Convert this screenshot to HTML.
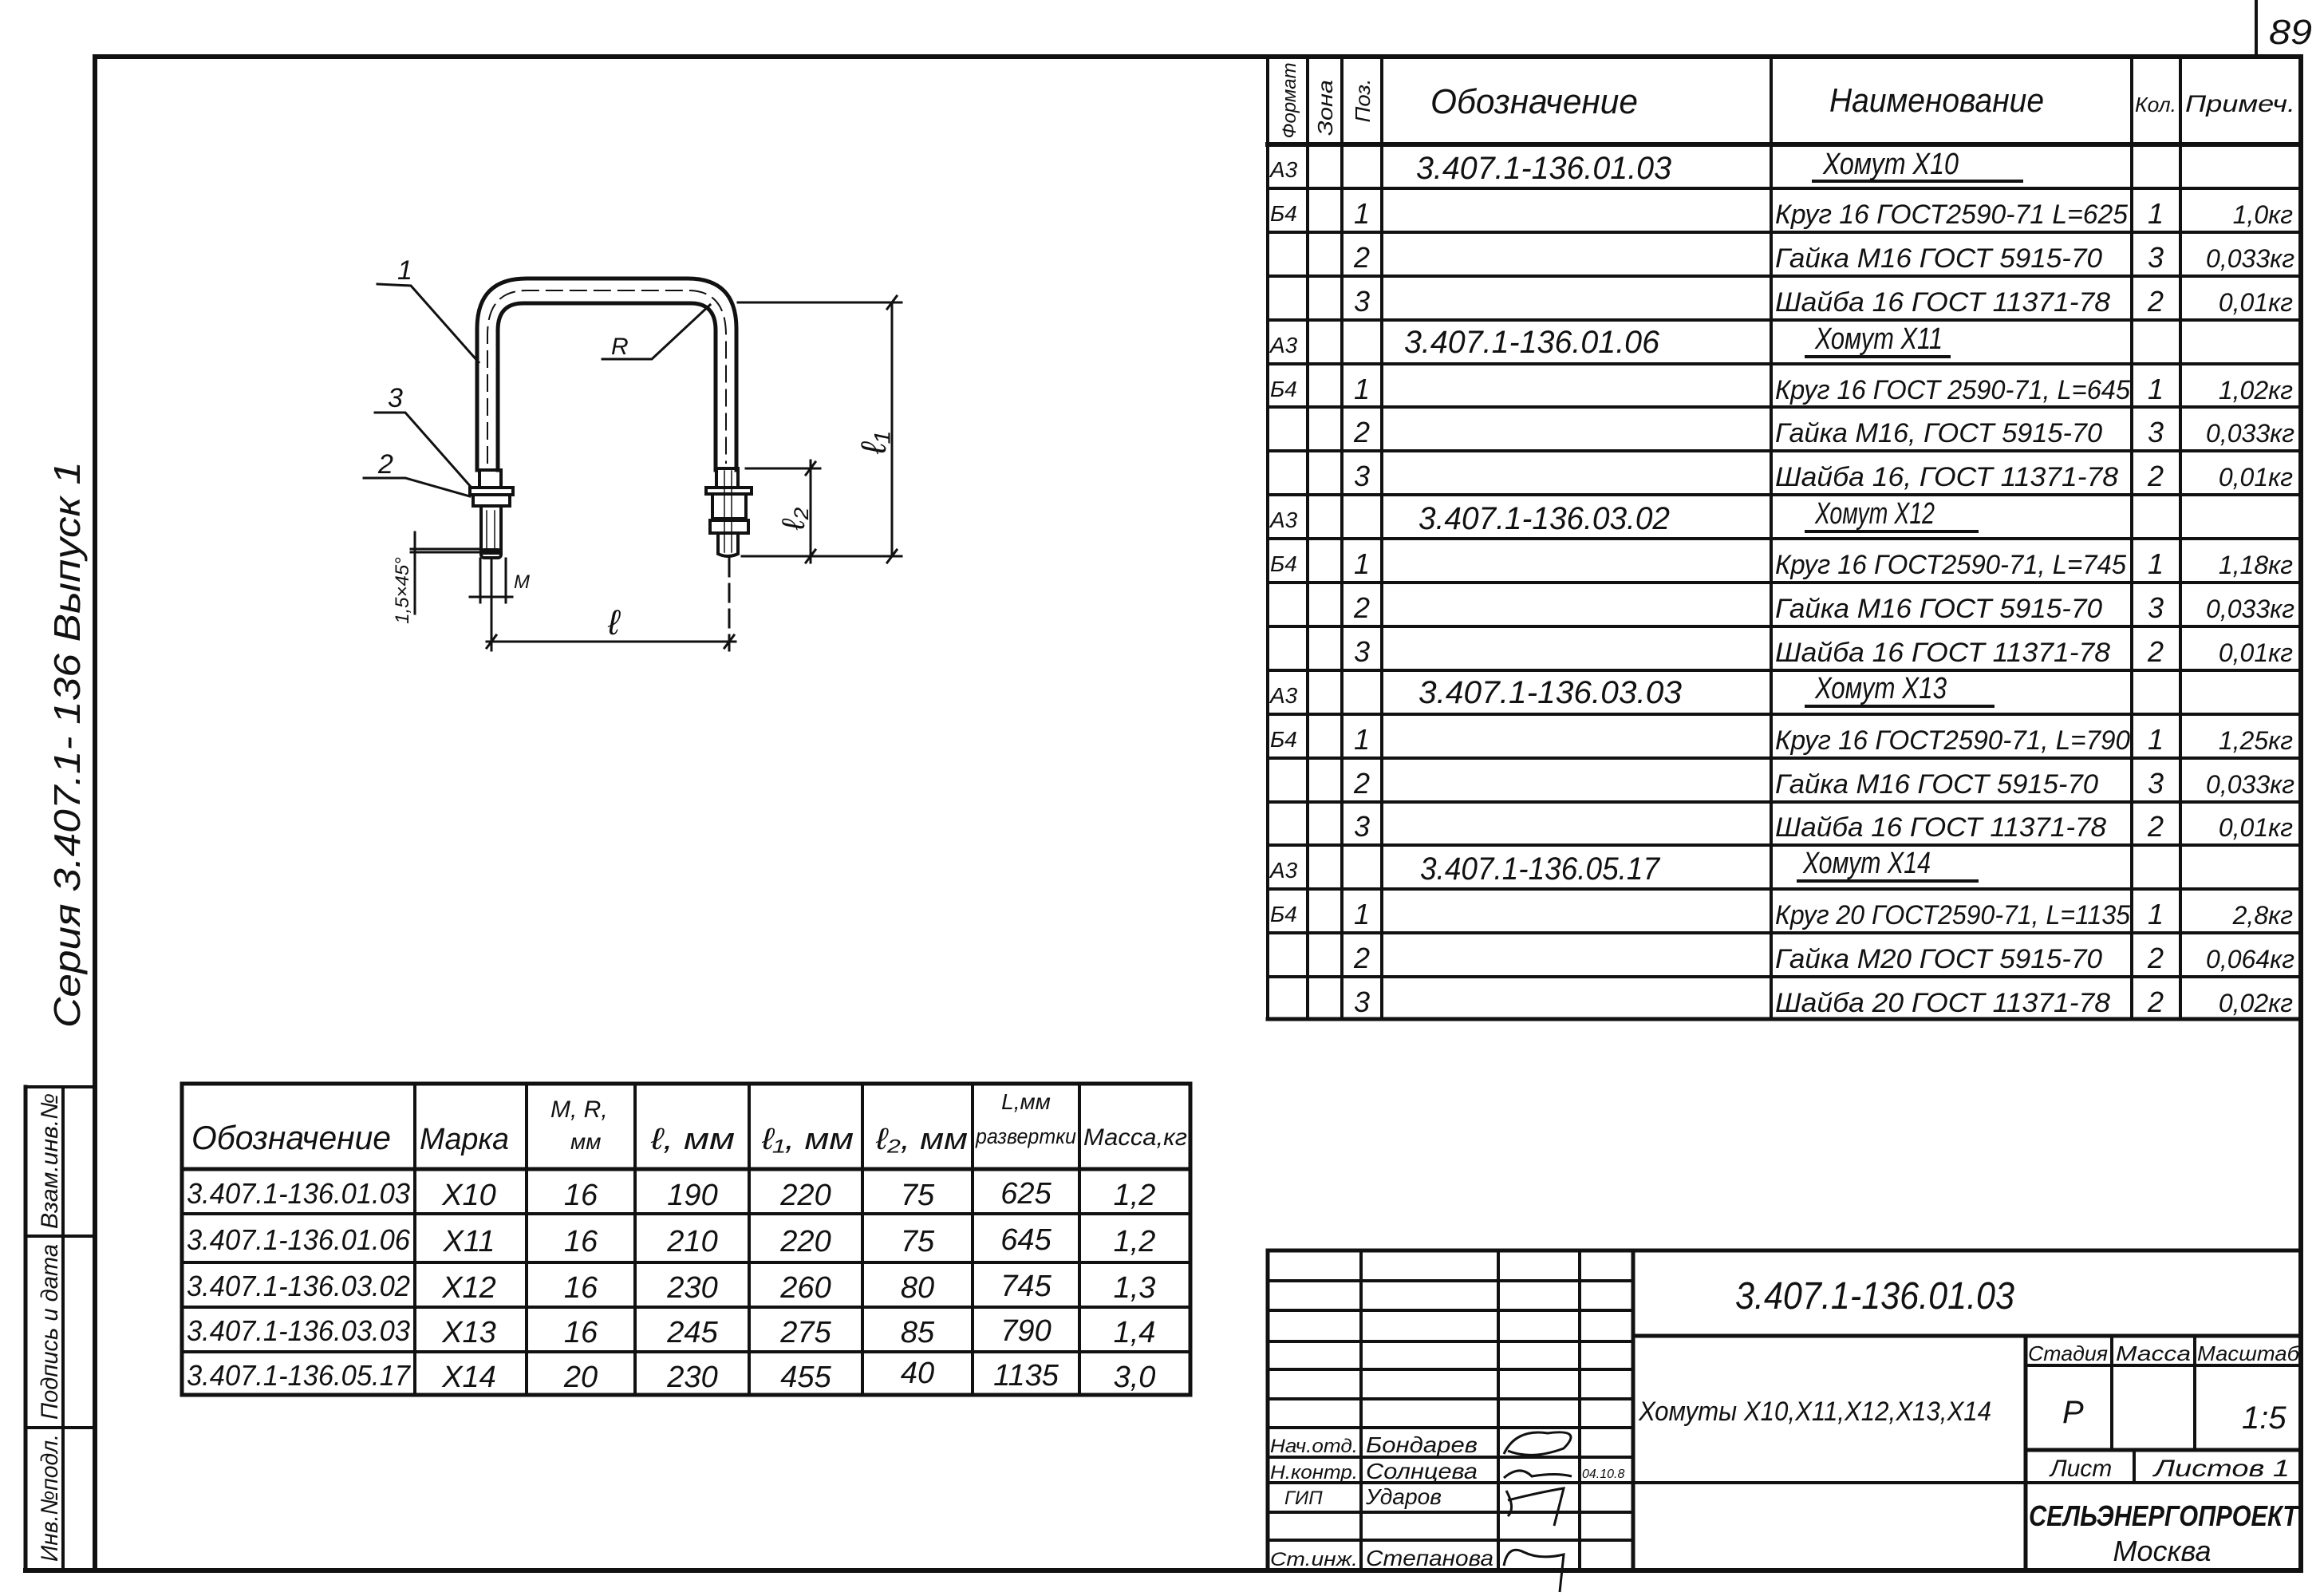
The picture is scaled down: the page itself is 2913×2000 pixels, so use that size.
<!DOCTYPE html>
<html><head><meta charset="utf-8"><style>
html,body{margin:0;padding:0;background:#fff;width:2913px;height:2000px;overflow:hidden}
svg{display:block}
text{font-family:"Liberation Sans","DejaVu Sans",sans-serif;font-style:italic;fill:#111}
</style></head><body>
<svg width="2913" height="2000" viewBox="0 0 2913 2000" xmlns="http://www.w3.org/2000/svg">
<g stroke="#111" fill="none" stroke-linecap="square">
<!-- frame -->
<line x1="119" y1="71" x2="2884" y2="71" stroke-width="6"/>
<line x1="119" y1="71" x2="119" y2="1968" stroke-width="6"/>
<line x1="2884" y1="71" x2="2884" y2="1968" stroke-width="6"/>
<line x1="32" y1="1968" x2="2884" y2="1968" stroke-width="6"/>
<line x1="2828" y1="0" x2="2828" y2="71" stroke-width="4"/>
<!-- binding strip -->
<line x1="32" y1="1362" x2="32" y2="1968" stroke-width="5"/>
<line x1="79" y1="1362" x2="79" y2="1968" stroke-width="4"/>
<line x1="32" y1="1362" x2="119" y2="1362" stroke-width="4"/>
<line x1="32" y1="1549" x2="119" y2="1549" stroke-width="4"/>
<line x1="32" y1="1789" x2="119" y2="1789" stroke-width="4"/>

<!-- spec table -->
<g stroke-width="4">
<line x1="1589" y1="71" x2="1589" y2="1277"/>
<line x1="1639" y1="71" x2="1639" y2="1277"/>
<line x1="1682" y1="71" x2="1682" y2="1277"/>
<line x1="1732" y1="71" x2="1732" y2="1277"/>
<line x1="2220" y1="71" x2="2220" y2="1277"/>
<line x1="2672" y1="71" x2="2672" y2="1277"/>
<line x1="2733" y1="71" x2="2733" y2="1277"/>
<line x1="1589" y1="181" x2="2884" y2="181" stroke-width="6"/>
<line x1="1589" y1="236" x2="2884" y2="236"/>
<line x1="1589" y1="291" x2="2884" y2="291"/>
<line x1="1589" y1="346" x2="2884" y2="346"/>
<line x1="1589" y1="401" x2="2884" y2="401"/>
<line x1="1589" y1="456" x2="2884" y2="456"/>
<line x1="1589" y1="510" x2="2884" y2="510"/>
<line x1="1589" y1="565" x2="2884" y2="565"/>
<line x1="1589" y1="620" x2="2884" y2="620"/>
<line x1="1589" y1="675" x2="2884" y2="675"/>
<line x1="1589" y1="730" x2="2884" y2="730"/>
<line x1="1589" y1="785" x2="2884" y2="785"/>
<line x1="1589" y1="840" x2="2884" y2="840"/>
<line x1="1589" y1="895" x2="2884" y2="895"/>
<line x1="1589" y1="950" x2="2884" y2="950"/>
<line x1="1589" y1="1005" x2="2884" y2="1005"/>
<line x1="1589" y1="1059" x2="2884" y2="1059"/>
<line x1="1589" y1="1114" x2="2884" y2="1114"/>
<line x1="1589" y1="1169" x2="2884" y2="1169"/>
<line x1="1589" y1="1224" x2="2884" y2="1224"/>
<line x1="1589" y1="1277" x2="2884" y2="1277" stroke-width="5"/>
</g>

<!-- lower-left table -->
<g stroke-width="4">
<rect x="228" y="1358" width="1264" height="390" stroke-width="5"/>
<line x1="520" y1="1358" x2="520" y2="1748"/>
<line x1="660" y1="1358" x2="660" y2="1748"/>
<line x1="796" y1="1358" x2="796" y2="1748"/>
<line x1="939" y1="1358" x2="939" y2="1748"/>
<line x1="1081" y1="1358" x2="1081" y2="1748"/>
<line x1="1219" y1="1358" x2="1219" y2="1748"/>
<line x1="1353" y1="1358" x2="1353" y2="1748"/>
<line x1="228" y1="1465" x2="1492" y2="1465" stroke-width="5"/>
<line x1="228" y1="1521" x2="1492" y2="1521"/>
<line x1="228" y1="1582" x2="1492" y2="1582"/>
<line x1="228" y1="1638" x2="1492" y2="1638"/>
<line x1="228" y1="1694" x2="1492" y2="1694"/>
</g>

<!-- title block -->
<g stroke-width="4">
<line x1="1589" y1="1567" x2="2884" y2="1567" stroke-width="5"/>
<line x1="1589" y1="1567" x2="1589" y2="1968" stroke-width="5"/>
<line x1="1706" y1="1567" x2="1706" y2="1968"/>
<line x1="1878" y1="1567" x2="1878" y2="1968"/>
<line x1="1980" y1="1567" x2="1980" y2="1968"/>
<line x1="2047" y1="1567" x2="2047" y2="1968" stroke-width="5"/>
<line x1="1589" y1="1605" x2="2047" y2="1605"/>
<line x1="1589" y1="1642" x2="2047" y2="1642"/>
<line x1="1589" y1="1681" x2="2047" y2="1681"/>
<line x1="1589" y1="1716" x2="2047" y2="1716"/>
<line x1="1589" y1="1753" x2="2047" y2="1753"/>
<line x1="1589" y1="1789" x2="2047" y2="1789"/>
<line x1="1589" y1="1826" x2="2047" y2="1826"/>
<line x1="1589" y1="1858" x2="2884" y2="1858"/>
<line x1="1589" y1="1895" x2="2047" y2="1895"/>
<line x1="1589" y1="1930" x2="2047" y2="1930"/>
<line x1="2047" y1="1674" x2="2884" y2="1674" stroke-width="5"/>
<line x1="2539" y1="1674" x2="2539" y2="1968" stroke-width="5"/>
<line x1="2539" y1="1711" x2="2884" y2="1711"/>
<line x1="2539" y1="1817" x2="2884" y2="1817" stroke-width="5"/>
<line x1="2647" y1="1674" x2="2647" y2="1817"/>
<line x1="2751" y1="1674" x2="2751" y2="1817"/>
<line x1="2675" y1="1817" x2="2675" y2="1858"/>
<line x1="2539" y1="1898" x2="2884" y2="1898" stroke-width="0"/>
</g>

<!-- U-bolt drawing -->
<g stroke-width="5">
<path d="M598 589 L598 412 Q598 349 660 349 L862 349 Q923 349 923 412 L923 589"/>
<path d="M624 589 L624 414 Q624 380 656 380 L866 380 Q897 380 897 414 L897 589"/>
</g>
<path d="M611 580 L611 420 Q611 364 660 364 L862 364 Q910 364 910 420 L910 580" stroke-width="2" stroke-dasharray="20 10"/>
<g stroke-width="4">
<!-- left leg thread/nut/washer -->
<rect x="601" y="589" width="27" height="22"/>
<rect x="589" y="611" width="54" height="9"/>
<rect x="593" y="620" width="46" height="14"/>
<path d="M603 634 L603 693 L628 693 L628 634"/>
<rect x="603" y="689" width="25" height="10" rx="4"/>
<!-- right leg -->
<rect x="898" y="587" width="27" height="24"/>
<rect x="885" y="611" width="57" height="8"/>
<rect x="893" y="619" width="42" height="31"/>
<rect x="890" y="652" width="48" height="16"/>
<path d="M900 668 L900 694 Q912 700 925 694 L925 668"/>
</g>
<g stroke-width="1.5">
<line x1="610" y1="640" x2="610" y2="688"/><line x1="620" y1="640" x2="620" y2="688"/>
<line x1="908" y1="590" x2="908" y2="692"/><line x1="917" y1="590" x2="917" y2="692"/>
</g>
<!-- dimensions -->
<g stroke-width="3">
<line x1="925" y1="379" x2="1130" y2="379"/>
<line x1="930" y1="697" x2="1130" y2="697"/>
<line x1="1118" y1="379" x2="1118" y2="697"/>
<line x1="1112" y1="387" x2="1124" y2="371"/>
<line x1="1112" y1="705" x2="1124" y2="689"/>
<line x1="935" y1="587" x2="1028" y2="587"/>
<line x1="1016" y1="577" x2="1016" y2="705"/>
<line x1="1010" y1="595" x2="1022" y2="579"/>
<line x1="1010" y1="705" x2="1022" y2="689"/>
<line x1="616" y1="700" x2="616" y2="815"/>
<line x1="914" y1="700" x2="914" y2="815" stroke-dasharray="22 10"/>
<line x1="610" y1="804" x2="922" y2="804"/>
<line x1="610" y1="812" x2="622" y2="796"/>
<line x1="908" y1="812" x2="920" y2="796"/>
<line x1="602" y1="700" x2="602" y2="755"/>
<line x1="634" y1="700" x2="634" y2="755"/>
<line x1="589" y1="748" x2="642" y2="748"/>
<line x1="520" y1="667" x2="520" y2="769"/>
<line x1="515" y1="692" x2="603" y2="692"/>
<line x1="515" y1="688" x2="603" y2="688"/>
<!-- leaders -->
<polyline points="473,356 515,358 600,454"/>
<polyline points="470,517 508,517 591,611"/>
<polyline points="456,599 508,599 589,622"/>
<polyline points="755,450 817,450 890,382"/>
</g>
</g>

<!-- drawing labels -->
<text x="498" y="350" font-size="34">1</text>
<text x="486" y="510" font-size="34">3</text>
<text x="474" y="593" font-size="34">2</text>
<text x="766" y="444" font-size="30">R</text>
<text x="762" y="795" font-size="44">ℓ</text>
<text x="644" y="737" font-size="24">M</text>
<text transform="translate(1110,555) rotate(-90)" font-size="44" text-anchor="middle">ℓ₁</text>
<text transform="translate(1008,650) rotate(-90)" font-size="40" text-anchor="middle">ℓ₂</text>
<text transform="translate(512,740) rotate(-90)" font-size="24" text-anchor="middle">1,5×45°</text>

<!-- page number & side text -->
<text x="2844" y="55" font-size="44" textLength="54" lengthAdjust="spacingAndGlyphs">89</text>
<text transform="translate(100,933) rotate(-90)" font-size="46" text-anchor="middle" textLength="710" lengthAdjust="spacingAndGlyphs">Серия 3.407.1- 136 Выпуск 1</text>
<text transform="translate(72,1455) rotate(-90)" font-size="30" text-anchor="middle" textLength="170" lengthAdjust="spacingAndGlyphs">Взам.инв.№</text>
<text transform="translate(72,1669) rotate(-90)" font-size="30" text-anchor="middle" textLength="220" lengthAdjust="spacingAndGlyphs">Подпись и дата</text>
<text transform="translate(72,1877) rotate(-90)" font-size="30" text-anchor="middle" textLength="160" lengthAdjust="spacingAndGlyphs">Инв.№подл.</text>

<!-- spec header -->
<text transform="translate(1624,126) rotate(-90)" font-size="24" text-anchor="middle" textLength="95" lengthAdjust="spacingAndGlyphs">Формат</text>
<text transform="translate(1670,135) rotate(-90)" font-size="26" text-anchor="middle" textLength="70" lengthAdjust="spacingAndGlyphs">Зона</text>
<text transform="translate(1717,126) rotate(-90)" font-size="26" text-anchor="middle" textLength="55" lengthAdjust="spacingAndGlyphs">Поз.</text>
<text x="1793" y="142" font-size="44" textLength="260" lengthAdjust="spacingAndGlyphs">Обозначение</text>
<text x="2293" y="140" font-size="42" textLength="269" lengthAdjust="spacingAndGlyphs">Наименование</text>
<text x="2676" y="140" font-size="26" textLength="52" lengthAdjust="spacingAndGlyphs">Кол.</text>
<text x="2739" y="140" font-size="30" textLength="138" lengthAdjust="spacingAndGlyphs">Примеч.</text>

<g font-size="28">
<text x="1592" y="222">А3</text><text x="1592" y="442">А3</text><text x="1592" y="661">А3</text><text x="1592" y="881">А3</text><text x="1592" y="1100">А3</text>
<text x="1592" y="277">Б4</text><text x="1592" y="497">Б4</text><text x="1592" y="716">Б4</text><text x="1592" y="936">Б4</text><text x="1592" y="1155">Б4</text>
</g>
<g font-size="36" text-anchor="middle">
<text x="1707" y="280">1</text><text x="1707" y="335">2</text><text x="1707" y="390">3</text>
<text x="1707" y="500">1</text><text x="1707" y="554">2</text><text x="1707" y="609">3</text>
<text x="1707" y="719">1</text><text x="1707" y="774">2</text><text x="1707" y="829">3</text>
<text x="1707" y="939">1</text><text x="1707" y="994">2</text><text x="1707" y="1048">3</text>
<text x="1707" y="1158">1</text><text x="1707" y="1213">2</text><text x="1707" y="1268">3</text>
</g>
<g font-size="40">
<text x="1775" y="224" textLength="320" lengthAdjust="spacingAndGlyphs">3.407.1-136.01.03</text>
<text x="1760" y="442" textLength="320" lengthAdjust="spacingAndGlyphs">3.407.1-136.01.06</text>
<text x="1778" y="663" textLength="315" lengthAdjust="spacingAndGlyphs">3.407.1-136.03.02</text>
<text x="1778" y="881" textLength="330" lengthAdjust="spacingAndGlyphs">3.407.1-136.03.03</text>
<text x="1780" y="1102" textLength="300" lengthAdjust="spacingAndGlyphs">3.407.1-136.05.17</text>
</g>
<g font-size="38">
<text x="2285" y="218" textLength="170" lengthAdjust="spacingAndGlyphs">Хомут Х10</text>
<text x="2275" y="437" textLength="160" lengthAdjust="spacingAndGlyphs">Хомут Х11</text>
<text x="2275" y="656" textLength="150" lengthAdjust="spacingAndGlyphs">Хомут Х12</text>
<text x="2275" y="875" textLength="165" lengthAdjust="spacingAndGlyphs">Хомут Х13</text>
<text x="2260" y="1094" textLength="160" lengthAdjust="spacingAndGlyphs">Хомут Х14</text>
</g>
<g stroke="#111" stroke-width="4">
<line x1="2271" y1="227" x2="2536" y2="227"/>
<line x1="2262" y1="447" x2="2445" y2="447"/>
<line x1="2262" y1="666" x2="2480" y2="666"/>
<line x1="2262" y1="885" x2="2500" y2="885"/>
<line x1="2252" y1="1104" x2="2480" y2="1104"/>
</g>
<g font-size="34">
<text x="2225" y="280" textLength="442" lengthAdjust="spacingAndGlyphs">Круг 16 ГОСТ2590-71 L=625</text>
<text x="2225" y="335" textLength="410" lengthAdjust="spacingAndGlyphs">Гайка М16 ГОСТ 5915-70</text>
<text x="2225" y="390" textLength="420" lengthAdjust="spacingAndGlyphs">Шайба 16 ГОСТ 11371-78</text>
<text x="2225" y="500" textLength="445" lengthAdjust="spacingAndGlyphs">Круг 16 ГОСТ 2590-71, L=645</text>
<text x="2225" y="554" textLength="410" lengthAdjust="spacingAndGlyphs">Гайка М16, ГОСТ 5915-70</text>
<text x="2225" y="609" textLength="430" lengthAdjust="spacingAndGlyphs">Шайба 16, ГОСТ 11371-78</text>
<text x="2225" y="719" textLength="440" lengthAdjust="spacingAndGlyphs">Круг 16 ГОСТ2590-71, L=745</text>
<text x="2225" y="774" textLength="410" lengthAdjust="spacingAndGlyphs">Гайка М16 ГОСТ 5915-70</text>
<text x="2225" y="829" textLength="420" lengthAdjust="spacingAndGlyphs">Шайба 16 ГОСТ 11371-78</text>
<text x="2225" y="939" textLength="445" lengthAdjust="spacingAndGlyphs">Круг 16 ГОСТ2590-71, L=790</text>
<text x="2225" y="994" textLength="405" lengthAdjust="spacingAndGlyphs">Гайка М16 ГОСТ 5915-70</text>
<text x="2225" y="1048" textLength="415" lengthAdjust="spacingAndGlyphs">Шайба 16 ГОСТ 11371-78</text>
<text x="2225" y="1158" textLength="445" lengthAdjust="spacingAndGlyphs">Круг 20 ГОСТ2590-71, L=1135</text>
<text x="2225" y="1213" textLength="410" lengthAdjust="spacingAndGlyphs">Гайка М20 ГОСТ 5915-70</text>
<text x="2225" y="1268" textLength="420" lengthAdjust="spacingAndGlyphs">Шайба 20 ГОСТ 11371-78</text>
</g>
<g font-size="36" text-anchor="middle">
<text x="2702" y="280">1</text><text x="2702" y="335">3</text><text x="2702" y="390">2</text>
<text x="2702" y="500">1</text><text x="2702" y="554">3</text><text x="2702" y="609">2</text>
<text x="2702" y="719">1</text><text x="2702" y="774">3</text><text x="2702" y="829">2</text>
<text x="2702" y="939">1</text><text x="2702" y="994">3</text><text x="2702" y="1048">2</text>
<text x="2702" y="1158">1</text><text x="2702" y="1213">2</text><text x="2702" y="1268">2</text>
</g>
<g font-size="32" text-anchor="end">
<text x="2874" y="280">1,0кг</text><text x="2876" y="335">0,033кг</text><text x="2874" y="390">0,01кг</text>
<text x="2874" y="500">1,02кг</text><text x="2876" y="554">0,033кг</text><text x="2874" y="609">0,01кг</text>
<text x="2874" y="719">1,18кг</text><text x="2876" y="774">0,033кг</text><text x="2874" y="829">0,01кг</text>
<text x="2874" y="939">1,25кг</text><text x="2876" y="994">0,033кг</text><text x="2874" y="1048">0,01кг</text>
<text x="2874" y="1158">2,8кг</text><text x="2876" y="1213">0,064кг</text><text x="2874" y="1268">0,02кг</text>
</g>

<!-- lower table text -->
<text x="240" y="1440" font-size="42" textLength="250" lengthAdjust="spacingAndGlyphs">Обозначение</text>
<text x="526" y="1440" font-size="38" textLength="112" lengthAdjust="spacingAndGlyphs">Марка</text>
<text x="690" y="1400" font-size="30">M, R,</text>
<text x="715" y="1440" font-size="28">мм</text>
<text x="816" y="1440" font-size="38" textLength="105" lengthAdjust="spacingAndGlyphs">ℓ, мм</text>
<text x="955" y="1440" font-size="38" textLength="115" lengthAdjust="spacingAndGlyphs">ℓ₁, мм</text>
<text x="1098" y="1440" font-size="38" textLength="115" lengthAdjust="spacingAndGlyphs">ℓ₂, мм</text>
<text x="1286" y="1390" font-size="28" text-anchor="middle">L,мм</text>
<text x="1223" y="1433" font-size="27" textLength="126" lengthAdjust="spacingAndGlyphs">развертки</text>
<text x="1358" y="1435" font-size="30" textLength="130" lengthAdjust="spacingAndGlyphs">Масса,кг</text>
<g font-size="36">
<text x="234" y="1508" textLength="280" lengthAdjust="spacingAndGlyphs">3.407.1-136.01.03</text>
<text x="234" y="1566" textLength="280" lengthAdjust="spacingAndGlyphs">3.407.1-136.01.06</text>
<text x="234" y="1624" textLength="280" lengthAdjust="spacingAndGlyphs">3.407.1-136.03.02</text>
<text x="234" y="1680" textLength="280" lengthAdjust="spacingAndGlyphs">3.407.1-136.03.03</text>
<text x="234" y="1736" textLength="280" lengthAdjust="spacingAndGlyphs">3.407.1-136.05.17</text>
</g>
<g font-size="38" text-anchor="middle">
<text x="588" y="1510">Х10</text><text x="588" y="1568">Х11</text><text x="588" y="1626">Х12</text><text x="588" y="1682">Х13</text><text x="588" y="1738">Х14</text>
<text x="728" y="1510">16</text><text x="728" y="1568">16</text><text x="728" y="1626">16</text><text x="728" y="1682">16</text><text x="728" y="1738">20</text>
<text x="868" y="1510">190</text><text x="868" y="1568">210</text><text x="868" y="1626">230</text><text x="868" y="1682">245</text><text x="868" y="1738">230</text>
<text x="1010" y="1510">220</text><text x="1010" y="1568">220</text><text x="1010" y="1626">260</text><text x="1010" y="1682">275</text><text x="1010" y="1738">455</text>
<text x="1150" y="1510">75</text><text x="1150" y="1568">75</text><text x="1150" y="1626">80</text><text x="1150" y="1682">85</text><text x="1150" y="1733">40</text>
<text x="1286" y="1508">625</text><text x="1286" y="1566">645</text><text x="1286" y="1624">745</text><text x="1286" y="1680">790</text><text x="1286" y="1736">1135</text>
<text x="1422" y="1510">1,2</text><text x="1422" y="1568">1,2</text><text x="1422" y="1626">1,3</text><text x="1422" y="1682">1,4</text><text x="1422" y="1738">3,0</text>
</g>

<!-- title block text -->
<text x="2175" y="1640" font-size="48" textLength="350" lengthAdjust="spacingAndGlyphs">3.407.1-136.01.03</text>
<text x="2054" y="1780" font-size="34" textLength="442" lengthAdjust="spacingAndGlyphs">Хомуты Х10,Х11,Х12,Х13,Х14</text>
<text x="2542" y="1705" font-size="26" textLength="100" lengthAdjust="spacingAndGlyphs">Стадия</text>
<text x="2652" y="1705" font-size="26" textLength="94" lengthAdjust="spacingAndGlyphs">Масса</text>
<text x="2754" y="1705" font-size="26" textLength="128" lengthAdjust="spacingAndGlyphs">Масштаб</text>
<text x="2585" y="1783" font-size="40">Р</text>
<text x="2810" y="1790" font-size="40">1:5</text>
<text x="2570" y="1850" font-size="30">Лист</text>
<text x="2700" y="1850" font-size="30" textLength="170" lengthAdjust="spacingAndGlyphs">Листов 1</text>
<text x="2543" y="1912" font-size="36" font-style="normal" font-weight="bold" textLength="337" lengthAdjust="spacingAndGlyphs">СЕЛЬЭНЕРГОПРОЕКТ</text>
<text x="2710" y="1956" font-size="36" text-anchor="middle">Москва</text>
<g font-size="24">
<text x="1592" y="1820" textLength="110" lengthAdjust="spacingAndGlyphs">Нач.отд.</text>
<text x="1592" y="1853" textLength="110" lengthAdjust="spacingAndGlyphs">Н.контр.</text>
<text x="1610" y="1885">ГИП</text>
<text x="1592" y="1962" textLength="110" lengthAdjust="spacingAndGlyphs">Ст.инж.</text>
</g>
<g font-size="28">
<text x="1712" y="1820" textLength="140" lengthAdjust="spacingAndGlyphs">Бондарев</text>
<text x="1712" y="1853" textLength="140" lengthAdjust="spacingAndGlyphs">Солнцева</text>
<text x="1712" y="1885" textLength="95" lengthAdjust="spacingAndGlyphs">Ударов</text>
<text x="1712" y="1962" textLength="160" lengthAdjust="spacingAndGlyphs">Степанова</text>
</g>
<text x="1983" y="1852" font-size="16">04.10.8</text>
<g stroke="#111" stroke-width="3" fill="none">
<path d="M1885 1822 Q1900 1790 1940 1796 Q1985 1790 1960 1815 Q1920 1830 1890 1818"/>
<path d="M1885 1852 Q1905 1835 1920 1850 Q1950 1845 1970 1850"/>
<path d="M1888 1868 Q1900 1890 1890 1900 M1890 1880 Q1930 1870 1960 1865 L1948 1912"/>
<path d="M1885 1962 Q1890 1935 1910 1945 Q1930 1955 1960 1948 L1955 1995"/>
</g>
</svg>
</body></html>
